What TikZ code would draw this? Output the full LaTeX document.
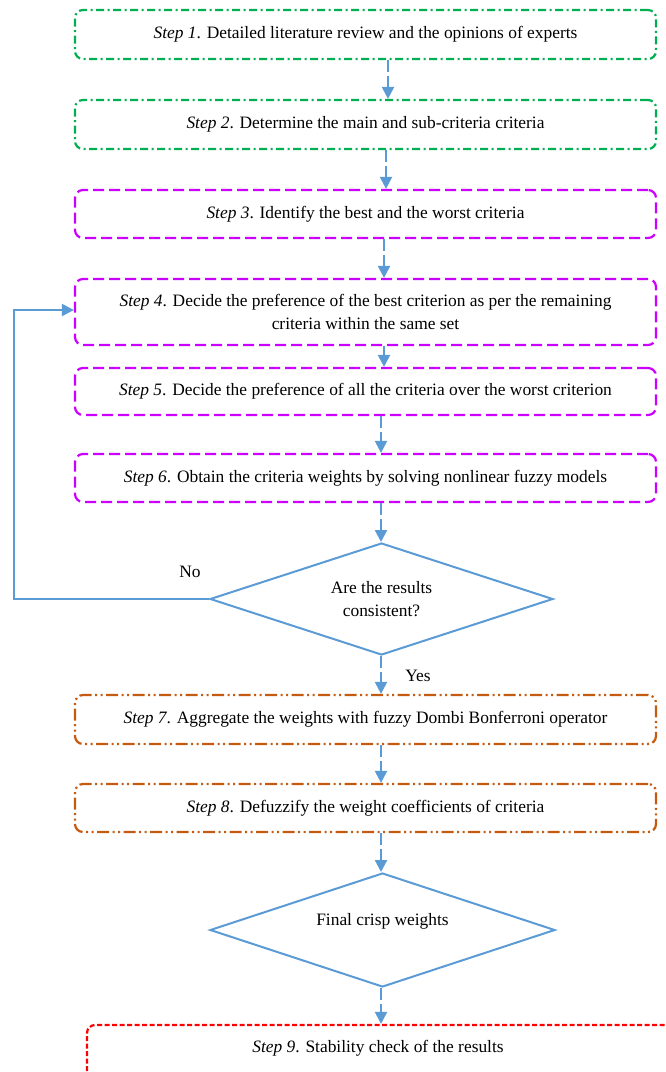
\documentclass[tikz,border=0pt]{standalone}
\usepackage{fontspec}
\setmainfont{Liberation Serif}
\usetikzlibrary{arrows.meta,shapes.geometric}
\definecolor{cgreen}{RGB}{0,176,80}
\definecolor{cmag}{RGB}{204,0,255}
\definecolor{corange}{RGB}{197,90,17}
\definecolor{cred}{RGB}{255,0,0}
\definecolor{cblue}{RGB}{91,155,213}
\begin{document}
\begin{tikzpicture}[x=1pt,y=-1pt,
  font=\fontsize{17.4}{23}\selectfont,
  box/.style={rectangle,rounded corners=8pt,line width=2.2pt,minimum width=581pt,inner sep=0pt,align=center},
  gbox/.style={box,draw=cgreen,dash pattern=on 8pt off 3.5pt on 2pt off 3.5pt},
  mbox/.style={box,draw=cmag,dash pattern=on 11pt off 5pt},
  obox/.style={box,draw=corange,dash pattern=on 12pt off 3.5pt on 2pt off 3.5pt on 2pt off 3.5pt},
  rbox/.style={box,draw=cred,dash pattern=on 5pt off 2.5pt},
  conn/.style={draw=cblue,line width=2.2pt,dash pattern=on 12pt off 4pt,-{Triangle[width=12pt,length=12pt]}},
  loopline/.style={draw=cblue,line width=2.2pt,-{Triangle[width=12pt,length=12pt]}},
  dia/.style={diamond,draw=cblue,line width=2pt,inner sep=0pt,align=center},
  lbl/.style={inner sep=0pt}
]
\useasboundingbox (0,0) rectangle (666,1072);
\node[gbox,minimum height=49pt] (b1) at (365.5,34.5) {\textit{Step 1}. Detailed literature review and the opinions of experts};
\node[gbox,minimum height=49pt] (b2) at (365.5,124.5) {\textit{Step 2}. Determine the main and sub-criteria criteria};
\node[mbox,minimum height=48pt] (b3) at (365.5,214) {\textit{Step 3}. Identify the best and the worst criteria};
\node[mbox,minimum height=66pt] (b4) at (365.5,312) {\textit{Step 4}. Decide the preference of the best criterion as per the remaining\\criteria within the same set};
\node[mbox,minimum height=47pt] (b5) at (365.5,391.5) {\textit{Step 5}. Decide the preference of all the criteria over the worst criterion};
\node[mbox,minimum height=48pt] (b6) at (365.5,478) {\textit{Step 6}. Obtain the criteria weights by solving nonlinear fuzzy models};
\node[dia,minimum width=343pt,minimum height=112pt,aspect=3.06] (d1) at (381.5,599) {Are the results\\consistent?};
\node[obox,minimum height=49pt] (b7) at (365.5,719.5) {\textit{Step 7}. Aggregate the weights with fuzzy Dombi Bonferroni operator};
\node[obox,minimum height=48pt] (b8) at (365.5,808) {\textit{Step 8}. Defuzzify the weight coefficients of criteria};
\node[dia,minimum width=345pt,minimum height=114pt,aspect=3.03] (d2) at (382.5,930) {};
\node[lbl] (t2) at (382.5,921) {Final crisp weights};
\node[rbox,minimum width=593pt,minimum height=58pt] (b9) at (383.5,1054) {};
\node[lbl] (t9) at (378,1048) {\textit{Step 9}. Stability check of the results};
\node[lbl] (no) at (190,572) {No};
\node[lbl] (yes) at (418,676) {Yes};
\coordinate (x1) at (388,0);
\coordinate (x2) at (386,0);
\coordinate (x3) at (384,0);
\coordinate (x4) at (381,0);
\coordinate (lx) at (14,0);
\draw[conn] (b1.south -| x1) -- (b2.north -| x1);
\draw[conn] (b2.south -| x2) -- (b3.north -| x2);
\draw[conn] (b3.south -| x3) -- (b4.north -| x3);
\draw[conn] (b4.south -| x3) -- (b5.north -| x3);
\draw[conn] (b5.south -| x4) -- (b6.north -| x4);
\draw[conn] (b6.south -| x4) -- (d1.north -| x4);
\draw[conn] (d1.south -| x4) -- (b7.north -| x4);
\draw[conn] (b7.south -| x4) -- (b8.north -| x4);
\draw[conn] (b8.south -| x4) -- (d2.north -| x4);
\draw[conn] (d2.south -| x4) -- (b9.north -| x4);
\draw[loopline] (d1.west) -- (d1.west -| lx) -- ([yshift=2pt]b4.west -| lx) -- ([yshift=2pt]b4.west);
\end{tikzpicture}
\end{document}
